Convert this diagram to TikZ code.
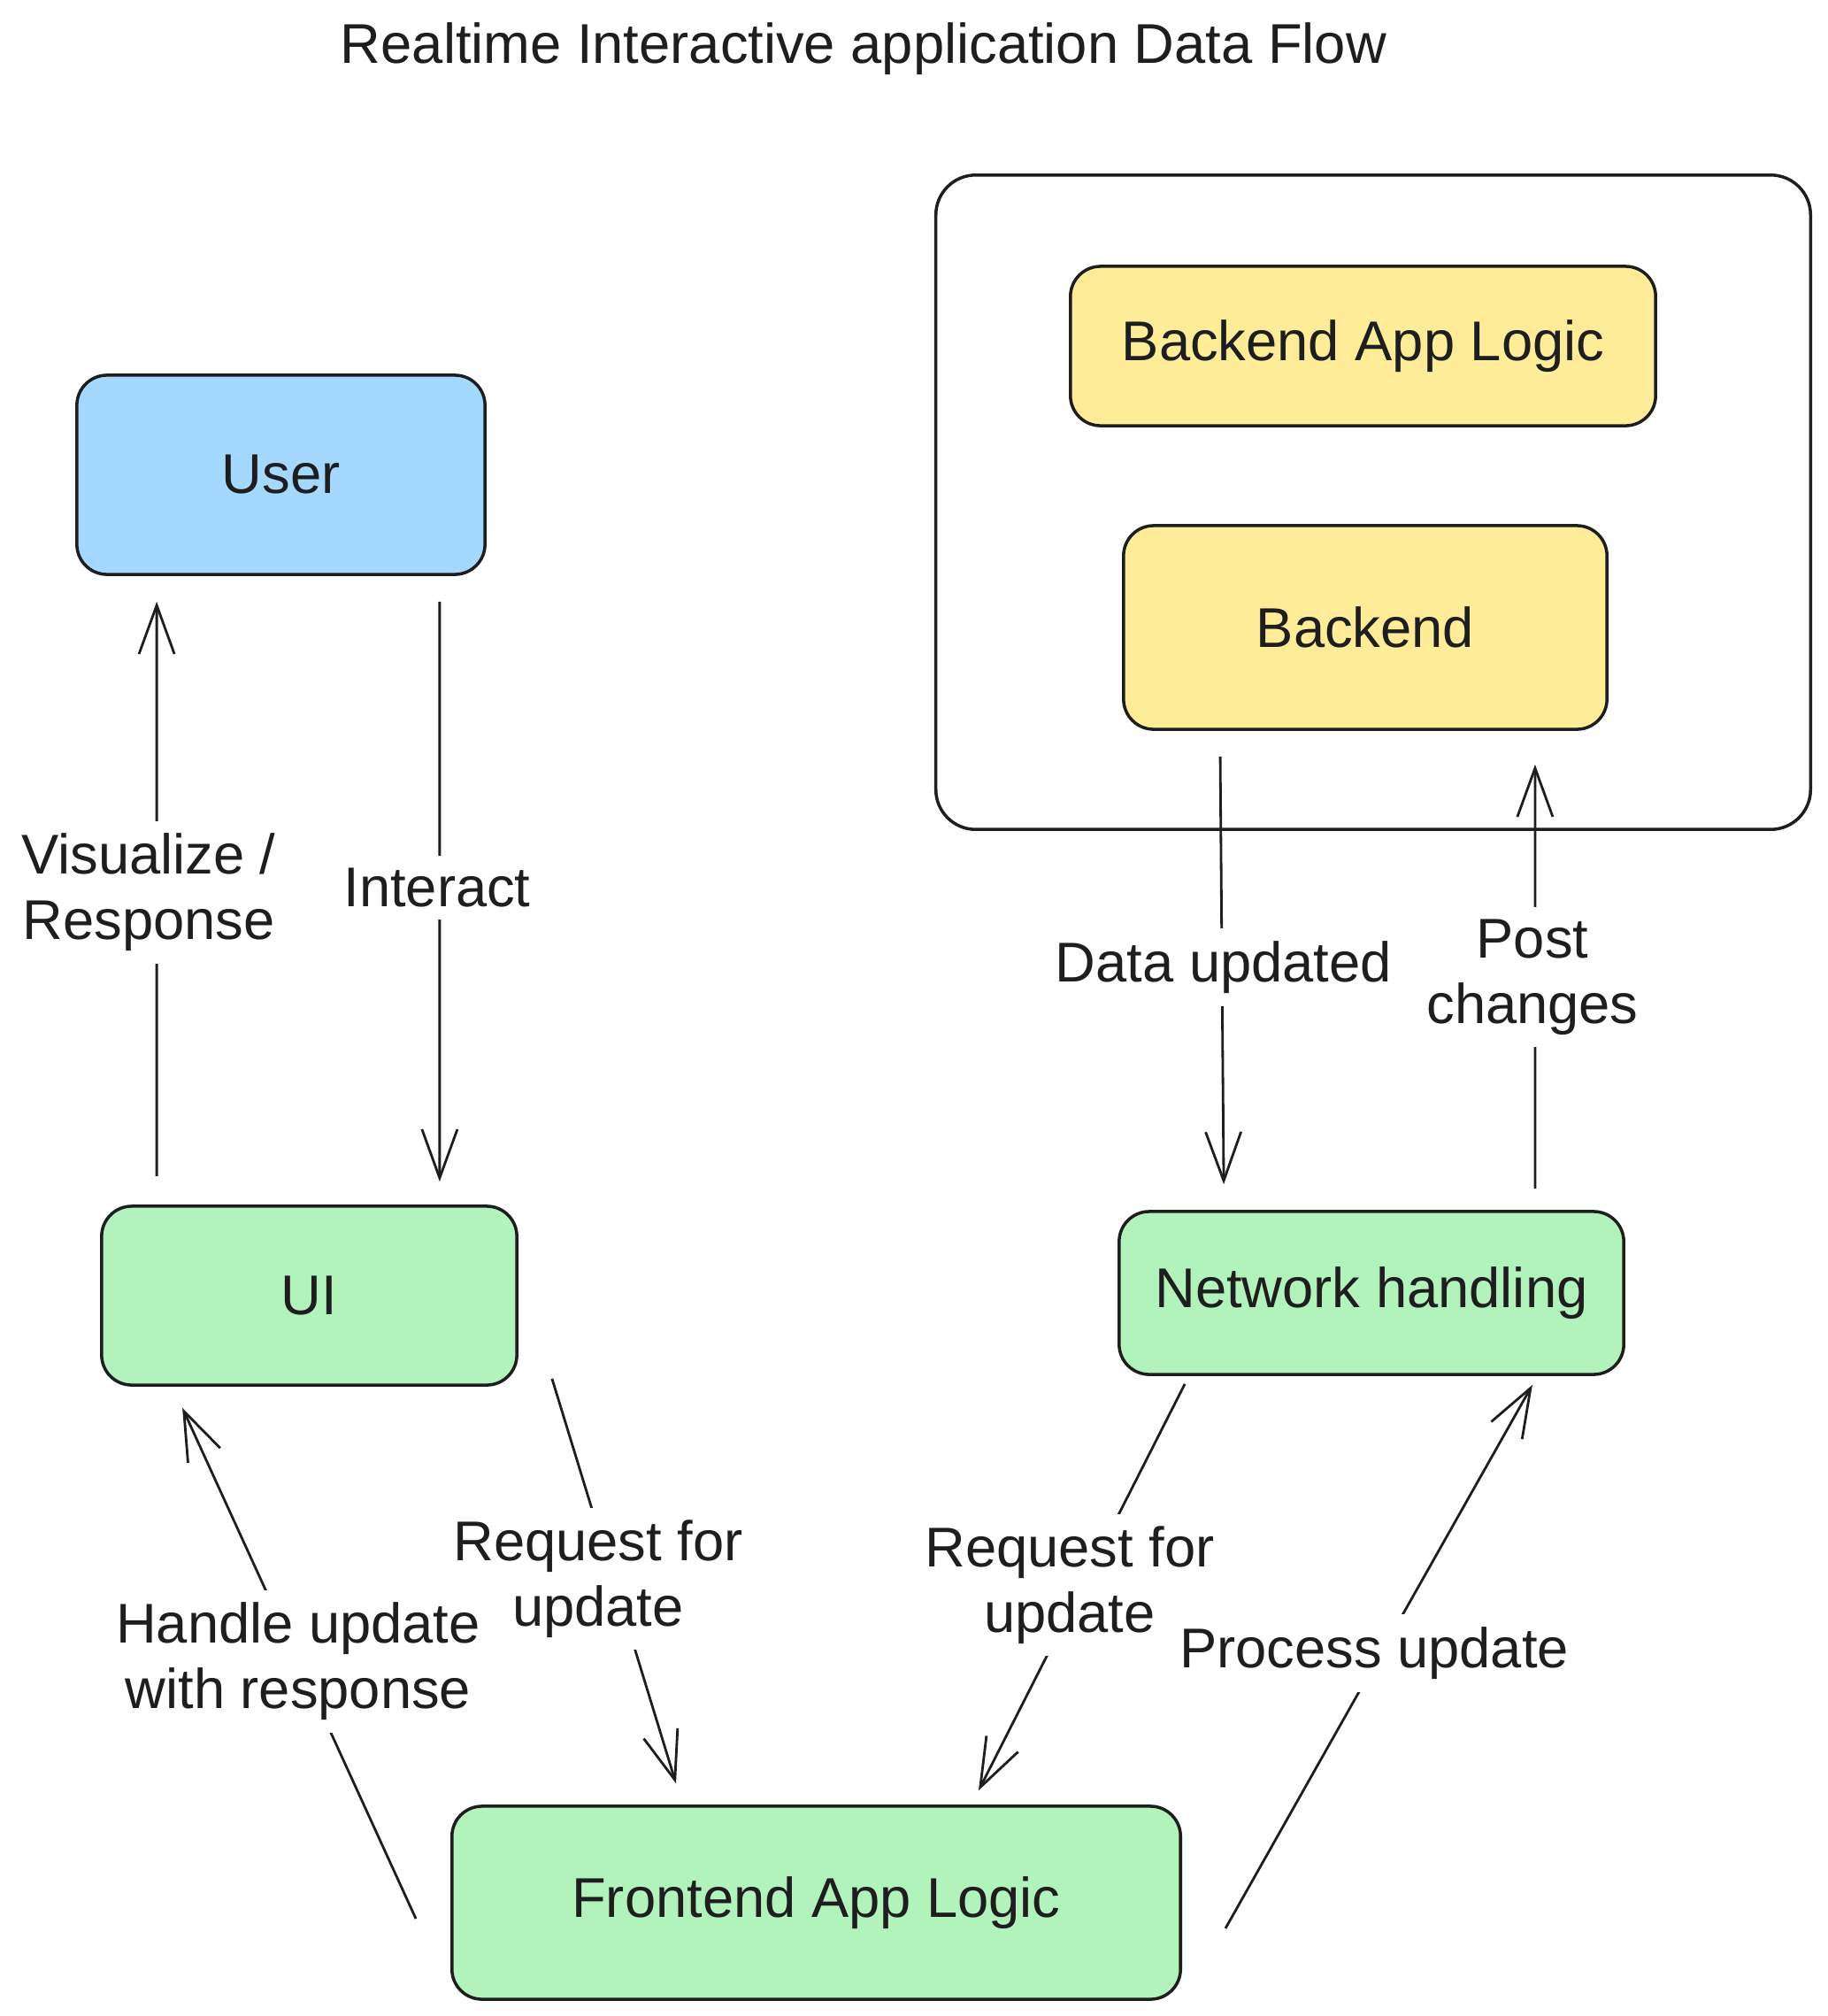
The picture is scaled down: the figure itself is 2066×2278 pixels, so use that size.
\documentclass[tikz,border=0pt]{standalone}
\usepackage{fontspec}
\setmainfont{Liberation Sans}
\usetikzlibrary{arrows.meta,calc}
\definecolor{ink}{HTML}{1E1E1E}
\definecolor{userblue}{HTML}{A5D8FF}
\definecolor{boxgreen}{HTML}{B2F2BB}
\definecolor{boxyellow}{HTML}{FFEC99}

\begin{document}
\begin{tikzpicture}[x=0.01cm,y=-0.01cm,
  every node/.style={font=\fontsize{18}{21}\selectfont, text=ink},
  card/.style={draw=ink, line width=1pt, rounded corners=0.34cm, inner sep=0pt},
  flow/.style={draw=ink, line width=0.8pt, -{Straight Barb[length=0.55cm,width=0.4cm]}},
  tag/.style={fill=white, inner sep=4pt, align=center}]
\useasboundingbox (0,0) rectangle (2066,2278);
\fill[white] (0,0) rectangle (2066,2278);

% title
\node (title) at (976,55) {Realtime Interactive application Data Flow};

% server group
\node[card, rounded corners=0.45cm, minimum width=9.88cm, minimum height=7.39cm] (server) at (1552,567.5) {};
\node[card, fill=boxyellow, minimum width=6.61cm, minimum height=1.80cm] (bal) at (1540.5,391) {Backend App Logic};
\node[card, fill=boxyellow, minimum width=5.46cm, minimum height=2.30cm] (backend) at (1543,709) {Backend};

% client side
\node[card, fill=userblue, minimum width=4.61cm, minimum height=2.25cm] (user) at (317.5,536.5) {User};
\node[card, fill=boxgreen, minimum width=4.69cm, minimum height=2.02cm] (ui) at (349.5,1464) {UI};
\node[card, fill=boxgreen, minimum width=5.70cm, minimum height=1.84cm] (nh) at (1550,1461) {Network handling};
\node[card, fill=boxgreen, minimum width=8.23cm, minimum height=2.18cm] (fal) at (922.5,2150) {Frontend App Logic};

% connectors
\draw[flow] ($(ui.north west)+(64,-32)$) -- ($(user.south west)+(92,29)$);
\draw[flow] ($(user.south east)+(-53,29)$) -- ($(ui.north east)+(-89,-26)$);
\draw[flow] ($(backend.south west)+(111,29)$) -- ($(nh.north west)+(120,-29)$);
\draw[flow] ($(nh.north east)+(-102,-24)$) -- ($(backend.south east)+(-83,38)$);
\draw[flow] ($(ui.south east)+(38,-9)$) -- ($(fal.north west)+(255,-24)$);
\draw[flow] ($(fal.west)+(-39,18)$) -- ($(ui.south west)+(93,24)$);
\draw[flow] ($(nh.south west)+(76,9)$) -- ($(fal.north east)+(-230,-16)$);
\draw[flow] ($(fal.east)+(49,29)$) -- ($(nh.south east)+(-105,10)$);

% connector labels
\node[tag] (lvis) at (168,1008) {Visualize /\\Response};
\node[tag] (lint) at (494,1003) {Interact};
\node[tag] (ldata) at (1383,1093) {Data updated};
\node[tag] (lpost) at (1732,1104) {Post\\changes};
\node[tag] (lreqa) at (676,1784) {Request for\\update};
\node[tag] (lhand) at (337,1877) {Handle update\\with response};
\node[tag] (lreqb) at (1209,1791) {Request for\\update};
\node[tag] (lproc) at (1553,1868) {Process update};
\end{tikzpicture}
\end{document}
